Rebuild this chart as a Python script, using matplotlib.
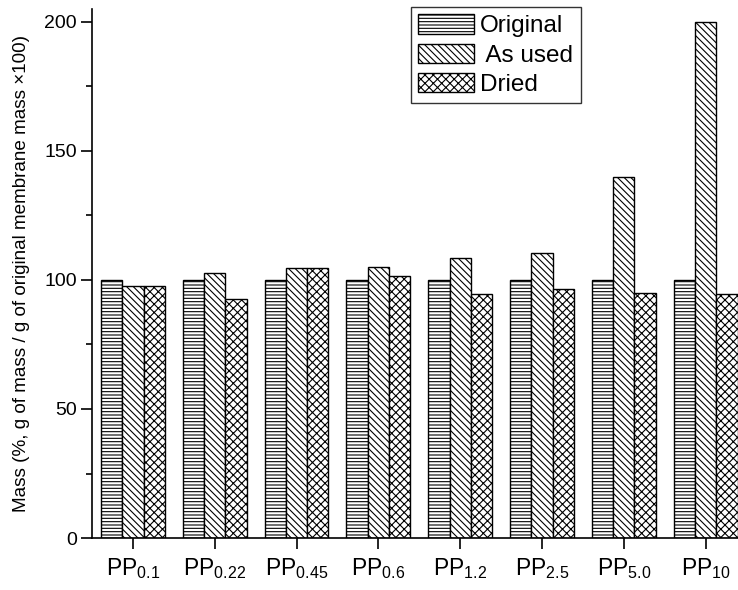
import numpy as np
import matplotlib
matplotlib.use('Agg')
import matplotlib.pyplot as plt
from matplotlib.ticker import MultipleLocator

plt.rcParams['font.family'] = ['Liberation Sans', 'DejaVu Sans']
plt.rcParams['mathtext.default'] = 'regular'
plt.rcParams['hatch.linewidth'] = 0.8

categories = ['PP$_{0.1}$', 'PP$_{0.22}$', 'PP$_{0.45}$', 'PP$_{0.6}$',
              'PP$_{1.2}$', 'PP$_{2.5}$', 'PP$_{5.0}$', 'PP$_{10}$']
original = [100, 100, 100, 100, 100, 100, 100, 100]
as_used = [97.5, 102.5, 104.5, 105, 108.5, 110.5, 140, 200]
dried = [97.5, 92.5, 104.5, 101.5, 94.5, 96.5, 95, 94.5]

fig = plt.figure(figsize=(7.38, 5.9), dpi=100)
ax = fig.add_axes([0.1247, 0.088, 0.8753, 0.897])

x = np.arange(len(categories))
w = 0.26
ax.bar(x - w, original, w, color='white', edgecolor='black', hatch='-----', linewidth=1, label='Original')
ax.bar(x, as_used, w, color='white', edgecolor='black', hatch='\\' * 5, linewidth=1, label=' As used')
ax.bar(x + w, dried, w, color='white', edgecolor='black', hatch='xxxx', linewidth=1, label='Dried')

ax.set_xlim(-0.5, 7.395)
ax.set_ylim(0, 205)
ax.set_xticks(x)
ax.set_xticklabels(categories)
ax.yaxis.set_major_locator(MultipleLocator(50))
ax.yaxis.set_minor_locator(MultipleLocator(25))
ax.tick_params(axis='both', which='major', direction='out', length=8, width=1.2)
ax.tick_params(axis='y', which='minor', direction='out', length=4.5, width=1.2)
ax.tick_params(axis='y', labelsize=14, pad=3)
ax.tick_params(axis='x', labelsize=16.5, pad=5)

for s in ['top', 'right']:
    ax.spines[s].set_visible(False)
for s in ['left', 'bottom']:
    ax.spines[s].set_linewidth(1.2)

ax.set_ylabel('Mass (%, g of mass / g of original membrane mass \u00d7100)', fontsize=13.6, labelpad=10)

leg = ax.legend(loc='upper left', bbox_to_anchor=(0.557, 0.988), bbox_transform=fig.transFigure,
                fontsize=17.5, frameon=True, fancybox=False, edgecolor='black',
                handlelength=2.3, handleheight=0.85, handletextpad=0.25, labelspacing=0.25,
                borderpad=0.3, borderaxespad=0)
leg.get_frame().set_linewidth(1)

fig.savefig('out.png', dpi=100)
